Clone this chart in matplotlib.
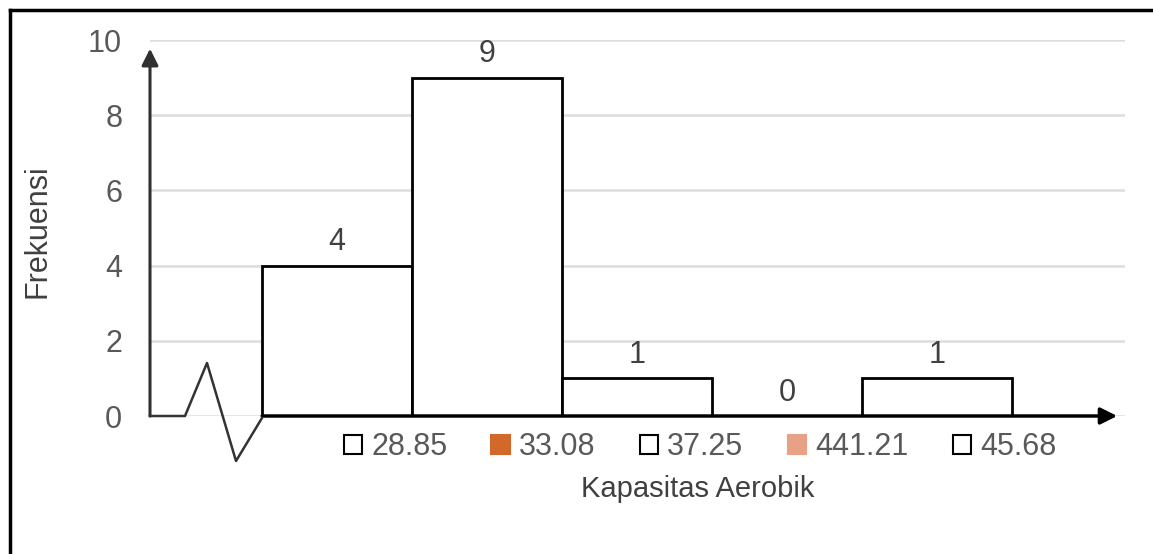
import matplotlib
matplotlib.use("Agg")
import matplotlib.pyplot as plt
from matplotlib.patches import Patch
from matplotlib.lines import Line2D

plt.rcParams['font.family'] = ['Liberation Sans', 'DejaVu Sans']

# data
labels = ["28.85", "33.08", "37.25", "441.21", "45.68"]
freq = [4, 9, 1, 0, 1]
legend_colors = ["white", "#D2692A", "white", "#E9A185", "white"]
yticks = [0, 2, 4, 6, 8, 10]

W, H = 1153, 554
fig = plt.figure(figsize=(W / 100, H / 100), dpi=100)
ax = fig.add_axes([150 / W, 1 - 416 / H, 975 / W, 376 / H])

x = list(range(len(freq)))
ax.bar(x, freq, width=1.0, color="white", edgecolor="black", linewidth=2, zorder=3)
for xi, v in zip(x, freq):
    ax.annotate(str(v), (xi, v), xytext=(0, 11), textcoords="offset points",
                ha="center", va="baseline", fontsize=22, color="#404040")

ax.set_xlim(-0.5 - 112 / 150, len(freq) - 0.5 + 113 / 150)
ax.set_ylim(0, 10)
ax.set_yticks(yticks)
ax.set_xticks([])
ax.tick_params(axis="y", length=0, pad=20, labelsize=22, labelcolor="#595959")
ax.grid(axis="y", color="#DDDDDD", linewidth=1.8, zorder=0)
for s in ax.spines.values():
    s.set_visible(False)

# axis arrows
ax.annotate("", xy=(0, 0.977), xytext=(0, 0), xycoords="axes fraction",
            arrowprops=dict(arrowstyle="-|>,head_length=1.0,head_width=0.5",
                            color="#303030", lw=2.2, shrinkA=0, shrinkB=0), zorder=4)
ax.annotate("", xy=(0.992, 0), xytext=(0.115, 0), xycoords="axes fraction",
            arrowprops=dict(arrowstyle="-|>,head_length=1.0,head_width=0.5",
                            color="black", lw=2.5, shrinkA=0, shrinkB=0), zorder=4)

# axis break zigzag
zx = [150, 185, 207, 236, 262]
zy = [416, 416, 363, 461, 418]
fig.add_artist(Line2D([p / W for p in zx], [1 - p / H for p in zy],
                      color="#333333", lw=1.8))

# frame (top and left only)
fig.add_artist(Line2D([9.5 / W, 9.5 / W], [0, 1 - 9.5 / H], color="black", lw=2.5))
fig.add_artist(Line2D([9.5 / W, 1], [1 - 9.5 / H, 1 - 9.5 / H], color="black", lw=2.5))

handles = [Patch(facecolor=c, edgecolor="black" if c == "white" else c, linewidth=1.5)
           for c in legend_colors]
fig.legend(handles, labels, loc="center", bbox_to_anchor=(700 / W, 1 - 447 / H),
           ncol=5, frameon=False, fontsize=22, labelcolor="#595959",
           handlelength=0.6, handleheight=0.6, handletextpad=0.3,
           columnspacing=1.45)

fig.text(698 / W, 1 - 489 / H, "Kapasitas Aerobik", ha="center", va="center",
         fontsize=21, color="#404040")
fig.text(38 / W, 1 - 231 / H, "Frekuensi", ha="center", va="center",
         rotation=90, fontsize=22, color="#404040")

fig.savefig("out.png", dpi=100)
